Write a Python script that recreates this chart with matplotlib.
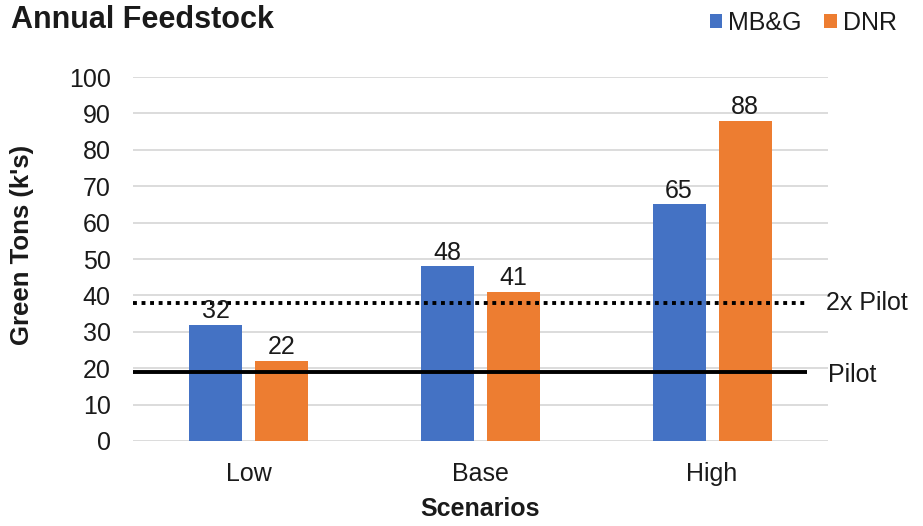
import numpy as np
import matplotlib.pyplot as plt

plt.rcParams["font.family"] = ["Liberation Sans", "DejaVu Sans"]

scenarios = ["Low", "Base", "High"]
mbg = [32, 48, 65]
dnr = [22, 41, 88]
pilot = 19
pilot_2x = 38

BLUE = "#4472C4"
ORANGE = "#ED7D31"
TEXT = "#1a1a1a"
FS = 18

fig = plt.figure(figsize=(9.23, 5.26), dpi=100)
ax = fig.add_axes([0.144, 0.1616, 0.753, 0.692])

x = np.arange(len(scenarios))
w = 0.229
off = 0.1425
ax.bar(x - off, mbg, w, color=BLUE, label="MB&G", zorder=2)
ax.bar(x + off, dnr, w, color=ORANGE, label="DNR", zorder=2)

for xi, v in zip(x - off, mbg):
    ax.text(xi, v + 0.4, str(v), ha="center", va="bottom", fontsize=FS, color=TEXT, zorder=4)
for xi, v in zip(x + off, dnr):
    ax.text(xi, v + 0.4, str(v), ha="center", va="bottom", fontsize=FS, color=TEXT, zorder=4)

# reference lines for pilot capacity
ax.hlines(pilot_2x, -0.5, 2.41, colors="black", linestyles=(0, (1, 1.2)), linewidth=2.8, zorder=3)
ax.hlines(pilot, -0.5, 2.41, colors="black", linewidth=2.8, zorder=3)
ax.text(2.49, pilot_2x, "2x Pilot", ha="left", va="center", fontsize=FS, color=TEXT, clip_on=False)
ax.text(2.50, pilot - 0.8, "Pilot", ha="left", va="center", fontsize=FS, color=TEXT, clip_on=False)

ax.set_xlim(-0.5, 2.5)
ax.set_ylim(0, 100)
ax.set_yticks(range(0, 101, 10))
ax.set_xticks(x)
ax.set_xticklabels(scenarios)
ax.yaxis.grid(True, color="#D9D9D9", linewidth=1.3, zorder=0)
ax.set_axisbelow(True)
for s in ax.spines.values():
    s.set_visible(False)
ax.tick_params(length=0, labelsize=FS, labelcolor=TEXT)
ax.tick_params(axis="y", pad=16)
ax.tick_params(axis="x", pad=15)

ax.set_ylabel("Green Tons (k's)", fontsize=18.5, fontweight="bold", color=TEXT)
ax.yaxis.set_label_coords(-0.143, 0.54)
ax.set_xlabel("Scenarios", fontsize=FS, fontweight="bold", color=TEXT, labelpad=8)

fig.text(0.012, 0.947, "Annual Feedstock", fontsize=22, fontweight="bold", color=TEXT, va="baseline")
fig.legend(loc="center right", bbox_to_anchor=(0.972, 0.956), ncol=2, frameon=False,
           fontsize=FS, handlelength=0.5, handleheight=0.5, handletextpad=0.25, columnspacing=0.9,
           labelcolor=TEXT, borderaxespad=0, borderpad=0)

fig.savefig("out.png", dpi=100)
